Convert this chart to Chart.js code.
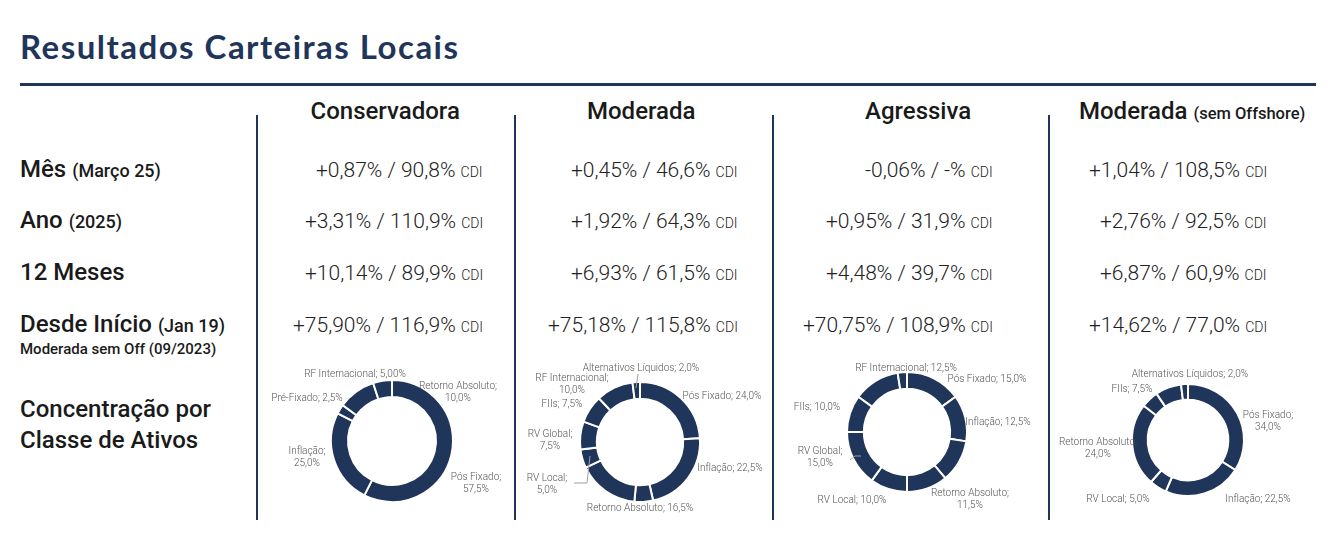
<!DOCTYPE html>
<html>
<head>
<meta charset="utf-8">
<script src="https://cdn.jsdelivr.net/npm/chart.js@4.4.1/dist/chart.umd.min.js"></script>
<style>
  html,body{margin:0;padding:0;background:#fff;overflow:hidden;}
  #page{position:relative;width:1332px;height:533px;overflow:hidden;}
  .t{position:absolute;white-space:nowrap;line-height:1;font-family:Roboto,sans-serif;}
  .b{display:inline-block;width:0;height:0;vertical-align:baseline;}
  .rule{position:absolute;background:#1f3559;}
  canvas{position:absolute;}
</style>
</head>
<body>
<div id="page"></div>
<script>
// ---------------- DATA ----------------
const pageTitle = 'Resultados Carteiras Locais';
const portfolios = ['Conservadora', 'Moderada', 'Agressiva', 'Moderada'];
const portfolioNotes = ['', '', '', '(sem Offshore)'];
const periodLabels = ['Mês', 'Ano', '12 Meses', 'Desde Início'];
const periodNotes = ['(Março 25)', '(2025)', '', '(Jan 19)'];
const sinceNote = 'Moderada sem Off (09/2023)';
const allocationLabel = ['Concentração por', 'Classe de Ativos'];
const cdiUnit = 'CDI';

const monthReturn = ['+0,87%', '+0,45%', '-0,06%', '+1,04%'];
const monthCdi    = ['90,8%', '46,6%', '-%', '108,5%'];
const yearReturn  = ['+3,31%', '+1,92%', '+0,95%', '+2,76%'];
const yearCdi     = ['110,9%', '64,3%', '31,9%', '92,5%'];
const m12Return   = ['+10,14%', '+6,93%', '+4,48%', '+6,87%'];
const m12Cdi      = ['89,9%', '61,5%', '39,7%', '60,9%'];
const sinceReturn = ['+75,90%', '+75,18%', '+70,75%', '+14,62%'];
const sinceCdi    = ['116,9%', '115,8%', '108,9%', '77,0%'];

// Allocation doughnuts (segments clockwise from 12 o'clock)
const classesConservadora = ['Pós Fixado', 'Inflação', 'Pré-Fixado', 'Retorno Absoluto', 'RF Internacional'];
const weightsConservadora = [57.5, 25.0, 2.5, 10.0, 5.0];
const textsConservadora   = ['57,5%', '25,0%', '2,5%', '10,0%', '5,00%'];

const classesModerada = ['Pós Fixado', 'Inflação', 'Outros', 'Retorno Absoluto', 'RV Local', 'RV Global', 'FIIs', 'RF Internacional', 'Alternativos Líquidos'];
const weightsModerada = [24.0, 22.5, 5.0, 16.5, 5.0, 7.5, 7.5, 10.0, 2.0];
const textsModerada   = ['24,0%', '22,5%', '', '16,5%', '5,0%', '7,5%', '7,5%', '10,0%', '2,0%'];

const classesAgressiva = ['Pós Fixado', 'Inflação', 'Retorno Absoluto', 'Outros', 'RV Local', 'RV Global', 'FIIs', 'RF Internacional', 'Outros'];
const weightsAgressiva = [15.0, 12.5, 11.5, 11.0, 10.0, 15.0, 10.0, 12.5, 2.5];
const textsAgressiva   = ['15,0%', '12,5%', '11,5%', '', '10,0%', '15,0%', '10,0%', '12,5%', ''];

const classesModeradaSemOff = ['Pós Fixado', 'Inflação', 'RV Local', 'Retorno Absoluto', 'Outros', 'FIIs', 'Alternativos Líquidos'];
const weightsModeradaSemOff = [34.0, 22.5, 5.0, 24.0, 5.0, 7.5, 2.0];
const textsModeradaSemOff   = ['34,0%', '22,5%', '5,0%', '24,0%', '', '7,5%', '2,0%'];

// ---------------- LAYOUT / STYLE ----------------
const NAVY = '#1f3559';
const page = document.getElementById('page');
const texts = [];
function addText(html, o) {
  const d = document.createElement('div');
  d.className = 't';
  d.innerHTML = html + '<span class="b"></span>';
  d.style.fontSize = o.size + 'px';
  d.style.fontWeight = o.weight || 400;
  d.style.color = o.color || '#1a1a1a';
  if (o.font) d.style.fontFamily = o.font;
  page.appendChild(d);
  texts.push({d, o, html});
}
function layoutTexts() {
  texts.forEach(({d, o, html}) => {
    if (o.fitWidth) {
      const n = [...html].length;
      const w0 = d.offsetWidth;
      d.style.letterSpacing = ((o.fitWidth - w0) / n) + 'px';
    }
    const b = d.querySelector('.b');
    const base = b.offsetTop;
    const w = d.offsetWidth;
    d.style.top = (o.baseline - base) + 'px';
    let x = o.x;
    if (o.align === 'right') x = o.x - w;
    else if (o.align === 'center') x = o.x - w / 2;
    d.style.left = x + 'px';
  });
}
function rule(x, y, w, h) {
  const r = document.createElement('div');
  r.className = 'rule';
  r.style.left = x + 'px'; r.style.top = y + 'px';
  r.style.width = w + 'px'; r.style.height = h + 'px';
  page.appendChild(r);
}

// title + rule
addText(pageTitle, {x: 20, baseline: 59, size: 33, weight: 700, color: NAVY, font: 'Lato, sans-serif', fitWidth: 439});
rule(20, 83, 1296, 3);

// column separators
[256, 514, 772, 1048].forEach(x => rule(x, 115, 2, 405));

// headers
const headerCenters = [385, 641, 918, 1192];
portfolios.forEach((p, i) => {
  const note = portfolioNotes[i] ? ' <span style="font-size:16.5px">' + portfolioNotes[i] + '</span>' : '';
  addText(p + note, {x: headerCenters[i], baseline: 119, size: 24, weight: 500, align: 'center'});
});

// row labels
const rowBaselines = [177, 228, 280, 332];
periodLabels.forEach((l, i) => {
  const note = periodNotes[i] ? ' <span style="font-size:18px">' + periodNotes[i] + '</span>' : '';
  addText(l + note, {x: 20, baseline: rowBaselines[i], size: 24, weight: 500});
});
addText(sinceNote, {x: 20, baseline: 354, size: 15, weight: 500});
addText(allocationLabel[0], {x: 20, baseline: 417, size: 24, weight: 500});
addText(allocationLabel[1], {x: 20, baseline: 448, size: 24, weight: 500});

// values
const valueRight = [483, 738, 993, 1267];
const rowsRet = [monthReturn, yearReturn, m12Return, sinceReturn];
const rowsCdi = [monthCdi, yearCdi, m12Cdi, sinceCdi];
rowsRet.forEach((arr, r) => {
  arr.forEach((v, c) => {
    addText(v + ' / ' + rowsCdi[r][c] + ' <span style="font-size:14px">' + cdiUnit + '</span>',
      {x: valueRight[c], baseline: rowBaselines[r], size: 21, weight: 300, align: 'right', color: '#222'});
  });
});

// ---------------- DOUGHNUTS ----------------
const ringLabels = {
  id: 'ringLabels',
  afterDatasetsDraw(chart, args, opts) {
    const ctx = chart.ctx;
    const meta = chart.getDatasetMeta(0);
    const names = chart.data.labels;
    const vals = opts.texts;
    const lay = opts.layout;
    ctx.save();
    ctx.font = '300 10px Roboto';
    ctx.fillStyle = '#555';
    ctx.textAlign = 'center';
    ctx.textBaseline = 'middle';
    meta.data.forEach((arc, i) => {
      const L = lay[i];
      if (!L) return;
      const cx = arc.x, cy = arc.y;
      if (L.leader) {
        ctx.strokeStyle = '#a0a0a0';
        ctx.lineWidth = 1;
        ctx.beginPath();
        L.leader.forEach((p, k) => {
          if (k === 0) ctx.moveTo(cx + p[0], cy + p[1]); else ctx.lineTo(cx + p[0], cy + p[1]);
        });
        ctx.stroke();
      }
      const lines = L.split ? [names[i] + ';', vals[i]] : [names[i] + '; ' + vals[i]];
      const lh = 12;
      lines.forEach((s, k) => {
        ctx.fillText(s, cx + L.dx, cy + L.dy + (k - (lines.length - 1) / 2) * lh);
      });
    });
    ctx.restore();
  }
};

const layoutConservadora = [
  {dx: 84, dy: 42, split: true},
  {dx: -85, dy: 16, split: true},
  {dx: -85, dy: -43},
  {dx: 66, dy: -49, split: true},
  {dx: -37, dy: -67}
];
const layoutModerada = [
  {dx: 82, dy: -46},
  {dx: 90, dy: 26},
  null,
  {dx: 0, dy: 66},
  {dx: -93, dy: 42, split: true, leader: [[-66, 41], [-53, 41], [-50, 14]]},
  {dx: -90, dy: -2, split: true},
  {dx: -78, dy: -38},
  {dx: -68, dy: -58, split: true},
  {dx: 1, dy: -74, leader: [[-2, -68], [-4, -54]]}
];
const layoutAgressiva = [
  {dx: 80, dy: -53},
  {dx: 91, dy: -10},
  {dx: 63, dy: 67, split: true},
  null,
  {dx: -55, dy: 68},
  {dx: -87, dy: 25, split: true, leader: [[-57, 28], [-52, 24], [-46, 24]]},
  {dx: -90, dy: -25},
  {dx: -1, dy: -64},
  null
];
const layoutModeradaSemOff = [
  {dx: 80, dy: -19, split: true},
  {dx: 70, dy: 59},
  {dx: -70, dy: 59},
  {dx: -90, dy: 8, split: true},
  null,
  {dx: -56, dy: -51},
  {dx: 2, dy: -66}
];

function doughnut(cx, cy, radius, names, weights, vals, lay) {
  const W = 290, H = 190;
  const c = document.createElement('canvas');
  c.width = W; c.height = H;
  c.style.width = W + 'px'; c.style.height = H + 'px';
  c.style.left = (cx - W / 2) + 'px';
  c.style.top = (cy - H / 2) + 'px';
  page.appendChild(c);
  new Chart(c, {
    type: 'doughnut',
    data: {
      labels: names,
      datasets: [{data: weights, backgroundColor: NAVY, borderColor: '#ffffff', borderWidth: 2, hoverOffset: 0}]
    },
    options: {
      responsive: false,
      animation: false,
      events: [],
      radius: radius,
      cutout: '72%',
      layout: {padding: 0},
      plugins: {
        legend: {display: false},
        tooltip: {enabled: false},
        ringLabels: {texts: vals, layout: lay}
      }
    },
    plugins: [ringLabels]
  });
}

function build() {
  layoutTexts();
  doughnut(392, 441, 61, classesConservadora, weightsConservadora, textsConservadora, layoutConservadora);
  doughnut(640, 442, 60, classesModerada, weightsModerada, textsModerada, layoutModerada);
  doughnut(907, 432, 60, classesAgressiva, weightsAgressiva, textsAgressiva, layoutAgressiva);
  doughnut(1188, 440, 56, classesModeradaSemOff, weightsModeradaSemOff, textsModeradaSemOff, layoutModeradaSemOff);
}
if (document.fonts && document.fonts.ready) document.fonts.ready.then(build); else build();
</script>
</body>
</html>
